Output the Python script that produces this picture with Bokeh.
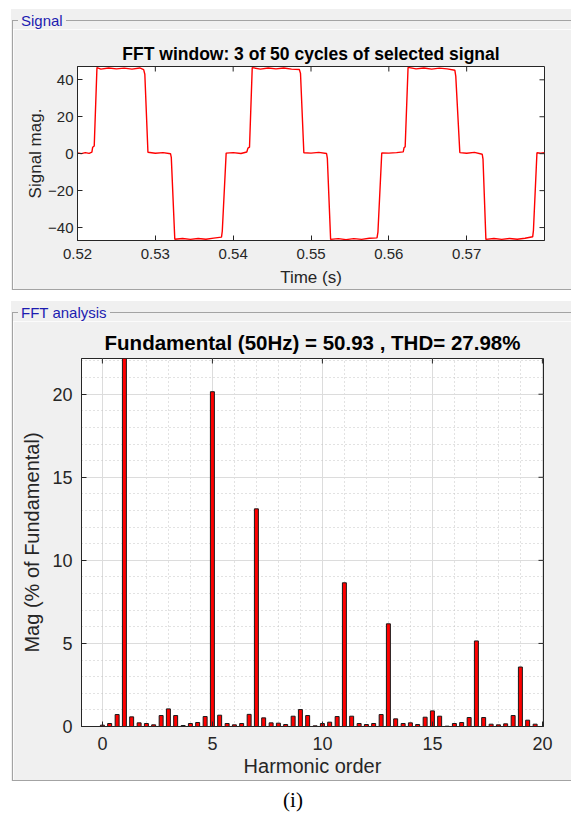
from math import pi
from bokeh.plotting import figure
from bokeh.models import ColumnDataSource, FixedTicker, Range1d, Spacer, Div
from bokeh.layouts import column, row
from bokeh.embed import file_html
from bokeh.resources import INLINE

# ---------------- data ----------------
# time-domain signal (corner points of the waveform)
sig_time = [0.52000, 0.52050, 0.52100, 0.52150, 0.52185, 0.52195, 0.52215, 0.52250,
            0.52300, 0.52400, 0.52500, 0.52600, 0.52700, 0.52800, 0.52850, 0.52865, 0.52905,
            0.53000, 0.53100, 0.53195, 0.53205, 0.53250,
            0.53350, 0.53450, 0.53550, 0.53650, 0.53750, 0.53850, 0.53860, 0.53910,
            0.54000, 0.54100, 0.54175, 0.54190, 0.54210, 0.54245,
            0.54350, 0.54450, 0.54550, 0.54650, 0.54750, 0.54850, 0.54865, 0.54908,
            0.55000, 0.55100, 0.55200, 0.55210, 0.55252,
            0.55350, 0.55450, 0.55550, 0.55650, 0.55750, 0.55848, 0.55860, 0.55909,
            0.56000, 0.56100, 0.56185, 0.56195, 0.56210, 0.56247,
            0.56350, 0.56450, 0.56550, 0.56650, 0.56750, 0.56848, 0.56860, 0.56912,
            0.57000, 0.57100, 0.57200, 0.57210, 0.57247,
            0.57350, 0.57450, 0.57550, 0.57650, 0.57750, 0.57848, 0.57858, 0.57903,
            0.57950, 0.58000]
sig_value = [0.4, 0.0, 0.6, 0.2, 0.8, 3.5, 4.2, 46.6,
             45.8, 46.4, 45.9, 46.3, 45.8, 46.4, 45.5, 43.0, 0.8,
             0.2, 0.6, 0.0, -2.0, -46.3,
             -45.9, -46.4, -45.9, -46.3, -45.7, -45.2, -42.0, 0.3,
             0.6, 0.1, 0.9, 3.0, 3.5, 46.6,
             45.8, 46.4, 45.9, 46.4, 45.8, 45.6, 43.5, 0.5,
             0.3, 0.7, 0.1, -2.5, -46.4,
             -46.0, -46.5, -46.0, -46.4, -45.8, -45.6, -42.5, 0.4,
             0.3, 0.6, 1.0, 3.2, 3.8, 46.7,
             45.9, 46.4, 45.8, 46.3, 45.9, 45.2, 42.0, 0.6,
             0.2, 0.7, -0.3, -3.0, -46.4,
             -45.9, -46.4, -45.9, -46.3, -45.8, -45.0, -41.5, 0.5,
             0.3, 0.5]

# FFT spectrum: harmonic order (resolution 1/3) and magnitude in % of fundamental
harmonic_order = [0.00, 0.33, 0.67, 1.00, 1.33, 1.67, 2.00, 2.33, 2.67, 3.00,
                  3.33, 3.67, 4.00, 4.33, 4.67, 5.00, 5.33, 5.67, 6.00, 6.33,
                  6.67, 7.00, 7.33, 7.67, 8.00, 8.33, 8.67, 9.00, 9.33, 9.67,
                  10.00, 10.33, 10.67, 11.00, 11.33, 11.67, 12.00, 12.33, 12.67, 13.00,
                  13.33, 13.67, 14.00, 14.33, 14.67, 15.00, 15.33, 15.67, 16.00, 16.33,
                  16.67, 17.00, 17.33, 17.67, 18.00, 18.33, 18.67, 19.00, 19.33, 19.67]
harmonic_mag = [0.08, 0.18, 0.72, 100.0, 0.58, 0.22, 0.18, 0.10, 0.66, 1.06,
                0.66, 0.06, 0.18, 0.24, 0.60, 20.15, 0.68, 0.18, 0.10, 0.18,
                0.73, 13.10, 0.52, 0.22, 0.20, 0.12, 0.62, 1.02, 0.66, 0.04,
                0.18, 0.26, 0.60, 8.65, 0.62, 0.18, 0.12, 0.18, 0.72, 6.18,
                0.46, 0.18, 0.22, 0.12, 0.56, 0.94, 0.62, 0.02, 0.18, 0.24,
                0.54, 5.15, 0.54, 0.14, 0.10, 0.16, 0.66, 3.58, 0.38, 0.14]

signal_xticks = [0.52, 0.53, 0.54, 0.55, 0.56, 0.57]
signal_yticks = [-40, -20, 0, 20, 40]
fft_xticks = [0, 5, 10, 15, 20]
fft_yticks = [0, 5, 10, 15, 20]
fft_minor_x = [0, 1, 2, 3, 4, 5, 6, 7, 8, 9, 10, 11, 12, 13, 14, 15, 16, 17, 18, 19, 20]
fft_minor_y = [0, 1, 2, 3, 4, 5, 6, 7, 8, 9, 10, 11, 12, 13, 14, 15, 16, 17, 18, 19, 20, 21, 22]

signal_title = "FFT window: 3 of 50 cycles of selected signal"
fft_title = "Fundamental (50Hz) = 50.93 , THD= 27.98%"
signal_group = "Signal"
fft_group = "FFT analysis"
caption_text = "(i)"

# ---------------- styling ----------------
FONT = "Liberation Sans"
PANEL = "#f0f0f0"
AX = "#262626"
GROUP_BLUE = "#1c1cb0"
FRAME = "#a3a3a3"


def style_axis(ax, size, label_size):
    ax.axis_line_color = AX
    ax.major_tick_line_color = AX
    ax.minor_tick_line_color = None
    ax.major_tick_in = 5
    ax.major_tick_out = 0
    ax.major_label_text_font = FONT
    ax.major_label_text_font_size = size
    ax.major_label_text_color = AX
    ax.axis_label_text_font = FONT
    ax.axis_label_text_font_size = label_size
    ax.axis_label_text_font_style = "normal"
    ax.axis_label_text_color = AX


def mirror_ticks(p, xticks, yticks, xr, yr):
    # inward tick marks on the top and right edges of the frame (glyphs are clipped to the frame)
    p.scatter(xticks, [yr.end] * len(xticks), marker="dash", angle=pi / 2, size=10,
              line_color=AX, line_width=1)
    p.scatter([xr.end] * len(yticks), yticks, marker="dash", angle=0, size=10,
              line_color=AX, line_width=1)


def header(text):
    html = (
        '<div style="position:relative;width:560px;height:20px;">'
        '<div style="position:absolute;left:1px;top:11px;width:620px;height:9px;'
        'border-top:1px solid %s;border-left:1px solid %s;"></div>'
        '<span style="position:absolute;left:7px;top:3px;padding:0 3px;background:%s;'
        'color:%s;font-family:\'Liberation Sans\';font-size:15px;line-height:17px;'
        'white-space:nowrap;">%s</span></div>'
    ) % (FRAME, FRAME, PANEL, GROUP_BLUE, text)
    return Div(text=html, width=560, height=20, margin=0,
               styles={"background-color": PANEL, "overflow": "visible"})


def left_line(h):
    return Div(text="", width=2, height=h, margin=0,
               styles={"background": "linear-gradient(to right, %s 0px, %s 1px, %s 1px, %s 2px)"
                       % (PANEL, PANEL, FRAME, FRAME)})


def bottom_line():
    return Div(text="", width=560, height=1, margin=0,
               styles={"background": "linear-gradient(to right, %s 0px, %s 1px, %s 1px, %s 100%%)"
                       % (PANEL, PANEL, FRAME, FRAME)})


# ---------------- top panel: signal ----------------
xr1 = Range1d(0.52, 0.58)
yr1 = Range1d(-47.0, 47.2)
p1 = figure(width=558, height=260, output_backend="svg", toolbar_location=None,
            x_range=xr1, y_range=yr1,
            min_border_left=64, min_border_right=27, min_border_top=37, min_border_bottom=49,
            border_fill_color=PANEL, background_fill_color="white",
            outline_line_color=AX, margin=0)
p1.line(sig_time, sig_value, line_color="#ff0000", line_width=1.4)
p1.xgrid.visible = False
p1.ygrid.visible = False
p1.xaxis.ticker = FixedTicker(ticks=signal_xticks)
p1.yaxis.ticker = FixedTicker(ticks=signal_yticks)
style_axis(p1.xaxis[0], "15px", "17px")
style_axis(p1.yaxis[0], "15px", "17px")
p1.xaxis.axis_label = "Time (s)"
p1.yaxis.axis_label = "Signal mag."
p1.xaxis.major_label_standoff = 8
p1.yaxis.major_label_standoff = 4
p1.xaxis.axis_label_standoff = 6
p1.yaxis.axis_label_standoff = 0
mirror_ticks(p1, signal_xticks, signal_yticks, xr1, yr1)
p1.title.text = signal_title
p1.title.align = "center"
p1.title.text_font = FONT
p1.title.text_font_size = "17.5px"
p1.title.text_font_style = "bold"
p1.title.text_color = "#000000"
p1.title.standoff = 6

# ---------------- bottom panel: FFT ----------------
xr2 = Range1d(-0.95, 20.05)
yr2 = Range1d(0, 22.15)
src = ColumnDataSource(dict(h=harmonic_order, m=harmonic_mag))
p2 = figure(width=558, height=459, output_backend="svg", toolbar_location=None,
            x_range=xr2, y_range=yr2,
            min_border_left=68, min_border_right=28, min_border_top=37, min_border_bottom=54,
            border_fill_color=PANEL, background_fill_color="white",
            outline_line_color=AX, margin=0)
p2.xgrid.ticker = FixedTicker(ticks=fft_xticks, minor_ticks=fft_minor_x)
p2.ygrid.ticker = FixedTicker(ticks=fft_yticks, minor_ticks=fft_minor_y)
for g in (p2.xgrid[0], p2.ygrid[0]):
    g.grid_line_color = "#dcdcdc"
    g.grid_line_width = 1
    g.minor_grid_line_color = "#c4c4c4"
    g.minor_grid_line_dash = "1 3"
p2.vbar(x="h", top="m", width=0.18, bottom=0, source=src,
        fill_color="#ff0000", line_color="#1a1a1a", line_width=1)
p2.xaxis.ticker = FixedTicker(ticks=fft_xticks)
p2.yaxis.ticker = FixedTicker(ticks=fft_yticks)
style_axis(p2.xaxis[0], "18px", "20px")
style_axis(p2.yaxis[0], "18px", "20px")
p2.xaxis.axis_label = "Harmonic order"
p2.yaxis.axis_label = "Mag (% of Fundamental)"
p2.xaxis.major_label_standoff = 10
p2.yaxis.major_label_standoff = 9
p2.xaxis.axis_label_standoff = 2
p2.yaxis.axis_label_standoff = 6
mirror_ticks(p2, fft_xticks, fft_yticks, xr2, yr2)
p2.title.text = fft_title
p2.title.align = "center"
p2.title.text_font = FONT
p2.title.text_font_size = "20.5px"
p2.title.text_font_style = "bold"
p2.title.text_color = "#000000"
p2.title.standoff = 9

caption = Div(text=caption_text, width=571, height=33, margin=0,
              styles={"font-family": "Liberation Serif", "font-size": "21px",
                      "line-height": "24px", "text-align": "center",
                      "padding-left": "15px", "padding-top": "7px",
                      "color": "#000000", "box-sizing": "border-box"})

panel1 = column(header(signal_group),
                row(left_line(260), p1, spacing=0),
                bottom_line(), spacing=0)
panel2 = column(header(fft_group),
                row(left_line(459), p2, spacing=0),
                bottom_line(), spacing=0)

layout = column(
    Spacer(width=571, height=9),
    row(Spacer(width=11, height=281), panel1, spacing=0),
    Spacer(width=571, height=11),
    row(Spacer(width=11, height=480), panel2, spacing=0),
    caption,
    spacing=0,
)

with open("out.html", "w") as f:
    f.write(file_html(layout, INLINE))
